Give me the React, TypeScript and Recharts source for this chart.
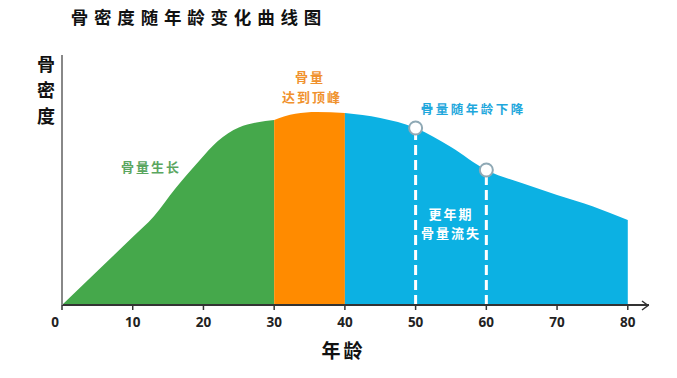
import React from 'react';
import {
  AreaChart, Area, XAxis, YAxis, ReferenceLine, ReferenceDot
} from 'recharts';

// bone density curve (0-100 scale)
const growthAges = [0, 5, 10, 13, 16, 19.5, 22, 25, 27.5, 30];
const growthValues = [0, 13.6, 27.2, 35.5, 46.5, 58, 65.5, 71, 73, 74];
const peakAges = [30, 33, 36, 40];
const peakValues = [74, 76.5, 77.2, 76.8];
const declineAges = [40, 45, 50, 55, 60, 65, 70, 75, 80];
const declineValues = [76.8, 74.8, 70.8, 63.2, 54, 48.8, 44, 39.5, 34];
const markerAges = [50, 60];
const xTicks = [0, 10, 20, 30, 40, 50, 60, 70, 80];

const GREEN = '#45a84b';
const ORANGE = '#ff8b00';
const BLUE = '#0cb1e3';
const CJK = '"Noto Sans CJK SC", "Noto Sans", sans-serif';

type Row = { age: number; g?: number | null; o?: number | null; b?: number | null };

const buildRows = (): Row[] => {
  const map = new Map<number, Row>();
  const put = (ages: number[], vals: number[], key: 'g' | 'o' | 'b') => {
    ages.forEach((a, i) => {
      const r = map.get(a) || { age: a, g: null, o: null, b: null };
      r[key] = vals[i];
      map.set(a, r);
    });
  };
  put(growthAges, growthValues, 'g');
  put(peakAges, peakValues, 'o');
  put(declineAges, declineValues, 'b');
  return Array.from(map.values()).sort((a, b) => a.age - b.age);
};

const rows = buildRows();
const markers = markerAges.map(a => ({ age: a, v: declineValues[declineAges.indexOf(a)] }));

const AgeTick = (props: any) => {
  const { x, y, payload } = props;
  const dx = payload.value === 0 ? -7 : 0;
  return (
    <text x={x + dx} y={y} dy={15} textAnchor="middle" fill="#222"
      style={{ fontFamily: '"Open Sans", sans-serif', fontWeight: 700, fontSize: 13.5 }}>
      {payload.value}
    </text>
  );
};

const txt = (extra: React.CSSProperties): React.CSSProperties => ({
  position: 'absolute', fontFamily: CJK, fontWeight: 700, whiteSpace: 'nowrap',
  transform: 'translate(-50%, -50%)', lineHeight: 1, ...extra,
});

const App: React.FC = () => {
  return (
    <div style={{ position: 'absolute', left: 0, top: 0, width: 677, height: 378, background: '#fff' }}>
      <AreaChart width={677} height={378} data={rows}
        margin={{ top: 55, right: 28, bottom: 43, left: 2 }}>
        <XAxis dataKey="age" type="number" domain={[0, 83]} ticks={xTicks}
          axisLine={{ stroke: '#333', strokeWidth: 2 }} tickLine={{ stroke: '#333', strokeWidth: 1.5 }}
          tickSize={5} height={30} tick={<AgeTick />} />
        <YAxis type="number" domain={[0, 100]} width={60} tick={false} tickLine={false}
          axisLine={{ stroke: '#888', strokeWidth: 2 }} />
        <Area dataKey="g" type="monotone" stroke="none" fill={GREEN} fillOpacity={1} isAnimationActive={false} />
        <Area dataKey="o" type="monotone" stroke="none" fill={ORANGE} fillOpacity={1} isAnimationActive={false} />
        <Area dataKey="b" type="monotone" stroke="none" fill={BLUE} fillOpacity={1} isAnimationActive={false} />
        {markers.map(m => (
          <ReferenceLine key={'l' + m.age} segment={[{ x: m.age, y: 0 }, { x: m.age, y: m.v }]}
            stroke="#fff" strokeWidth={3} strokeDasharray="10 5" />
        ))}
        {markers.map(m => (
          <ReferenceDot key={'d' + m.age} x={m.age} y={m.v} r={6.5}
            fill="#fff" stroke="#8fa9b5" strokeWidth={2} />
        ))}
      </AreaChart>

      <svg width={677} height={378} style={{ position: 'absolute', left: 0, top: 0, pointerEvents: 'none' }}>
        <polyline points="642,301 648,305.5 642,310" fill="none" stroke="#333" strokeWidth={1.5} />
      </svg>

      <div style={txt({ left: 196, top: 17, fontSize: 17.5, letterSpacing: 5.8, color: '#111', paddingLeft: 5.8 })}>
        骨密度随年龄变化曲线图
      </div>
      <div style={txt({ left: 46, top: 89, fontSize: 18, color: '#111', lineHeight: '26px', width: 20, textAlign: 'center', whiteSpace: 'normal' })}>
        骨<br />密<br />度
      </div>
      <div style={txt({ left: 342, top: 349, fontSize: 19, letterSpacing: 3, color: '#111', paddingLeft: 3 })}>
        年龄
      </div>
      <div style={txt({ left: 150, top: 166, fontSize: 13, letterSpacing: 2, color: '#5aa65f', paddingLeft: 2 })}>
        骨量生长
      </div>
      <div style={txt({ left: 309, top: 76, fontSize: 13, letterSpacing: 2, color: '#f0922e', paddingLeft: 2 })}>
        骨量
      </div>
      <div style={txt({ left: 311, top: 96, fontSize: 13, letterSpacing: 2, color: '#f0922e', paddingLeft: 2 })}>
        达到顶峰
      </div>
      <div style={txt({ left: 472, top: 109, fontSize: 12.5, letterSpacing: 2.5, color: '#1ea7dc', paddingLeft: 2.5 })}>
        骨量随年龄下降
      </div>
      <div style={txt({ left: 450, top: 213, fontSize: 13, letterSpacing: 2, color: '#fff', paddingLeft: 2 })}>
        更年期
      </div>
      <div style={txt({ left: 450, top: 232, fontSize: 13, letterSpacing: 2, color: '#fff', paddingLeft: 2 })}>
        骨量流失
      </div>
    </div>
  );
};

export default App;
